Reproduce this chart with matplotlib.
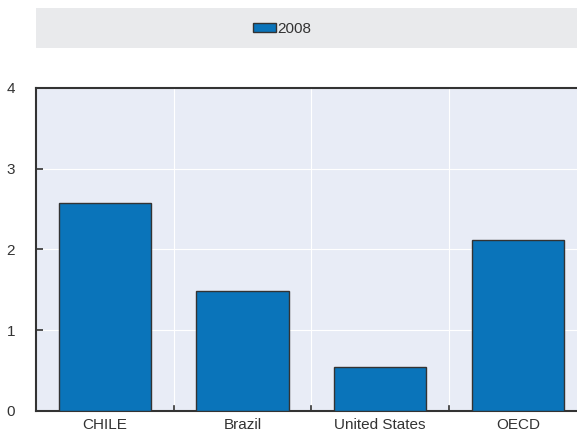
import matplotlib.pyplot as plt
from matplotlib.patches import Rectangle
import numpy as np

categories = ["CHILE", "Brazil", "United States", "OECD"]
values_2008 = [2.58, 1.49, 0.55, 2.12]
yticks = [0, 1, 2, 3, 4]

plt.rcParams['font.family'] = ['Liberation Sans Narrow', 'Liberation Sans', 'DejaVu Sans']

fig = plt.figure(figsize=(5.77, 4.32), dpi=100)
ax = fig.add_axes([36/577, 21/432, 541/577, 323/432])

# legend strip at the top
fig.patches.append(Rectangle((36/577, 384/432), 541/577, 40/432, transform=fig.transFigure,
                             facecolor='#e9eaec', edgecolor='none', zorder=0))

x = np.arange(len(categories))
ax.set_facecolor('#e8ecf6')
bars = ax.bar(x, values_2008, width=0.67, color='#0a74ba', edgecolor='#333333', linewidth=1.0,
              label='2008', zorder=3)

ax.set_xlim(-0.5, 3.43)
ax.set_ylim(0, 4)
ax.set_yticks(yticks)
ax.set_xticks(x)
ax.set_xticklabels(categories, fontsize=11, color='#333333')
ax.tick_params(axis='x', length=0, pad=5)
ax.tick_params(axis='y', direction='in', length=5, width=1.2, color='#333333',
               labelsize=11, labelcolor='#333333', pad=15)

# category separators: gridlines and small ticks on the baseline
for b in x[:-1] + 0.5:
    ax.axvline(b, color='white', lw=0.8, zorder=1)
    ax.plot([b, b], [0, 0.06], color='#333333', lw=1.2, zorder=4, clip_on=False)
ax.yaxis.grid(True, color='white', lw=0.8, zorder=1)
ax.set_axisbelow(True)

for s in ['left', 'bottom', 'top']:
    ax.spines[s].set_color('#333333')
    ax.spines[s].set_linewidth(1.5)
ax.spines['right'].set_visible(False)

fig.legend(handles=[bars], labels=['2008'], loc='center', bbox_to_anchor=(282/577, 403/432),
           frameon=False, fontsize=11, handlelength=1.5, handleheight=0.55, handletextpad=0.1,
           labelcolor='#333333')

fig.savefig('out.png', dpi=100)
